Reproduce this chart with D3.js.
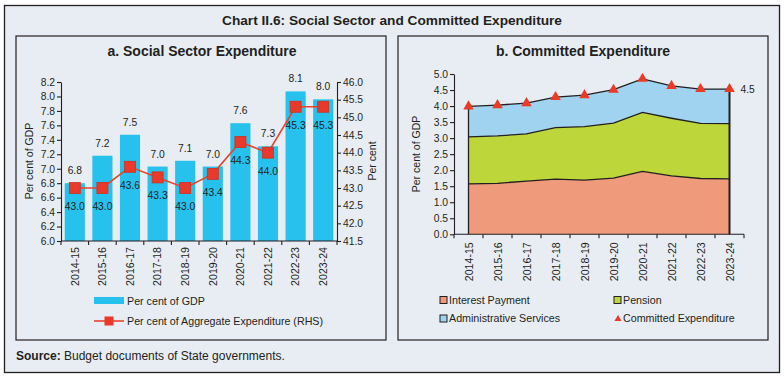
<!DOCTYPE html>
<html><head><meta charset="utf-8">
<script src="https://cdn.jsdelivr.net/npm/d3@7"></script>
<style>body{margin:0;background:#fff;} svg{display:block;font-family:"Liberation Sans",Arial,sans-serif;}</style>
</head><body>
<svg id="c" width="784" height="378"></svg>
<script>
const years = ["2014-15","2015-16","2016-17","2017-18","2018-19","2019-20","2020-21","2021-22","2022-23","2023-24"];
const gdpShare = [6.80,7.18,7.47,7.03,7.11,7.03,7.63,7.31,8.07,7.96];
const gdpLabels = ["6.8","7.2","7.5","7.0","7.1","7.0","7.6","7.3","8.1","8.0"];
const aggShare = [43.0,43.0,43.6,43.3,43.0,43.4,44.3,44.0,45.3,45.3];
const leftTicks = [6.0,6.2,6.4,6.6,6.8,7.0,7.2,7.4,7.6,7.8,8.0,8.2];
const rightTicks = [41.5,42.0,42.5,43.0,43.5,44.0,44.5,45.0,45.5,46.0];
const interest = [1.57,1.59,1.66,1.72,1.69,1.75,1.96,1.82,1.74,1.73];
const pension = [1.47,1.48,1.47,1.61,1.67,1.72,1.84,1.80,1.72,1.72];
const admin = [0.95,0.96,0.96,0.95,0.98,1.04,1.05,1.01,1.07,1.08];
const committed = [3.99,4.03,4.09,4.28,4.34,4.51,4.85,4.63,4.53,4.53];
const bTicks = [0,0.5,1.0,1.5,2.0,2.5,3.0,3.5,4.0,4.5,5.0];

const svg = d3.select("#c");
const ink = "#231f20";
svg.append("rect").attr("x",4.5).attr("y",5.5).attr("width",775).attr("height",367)
  .attr("fill","#e8edf3").attr("stroke",ink).attr("stroke-width",1.3);
svg.append("text").attr("x",392).attr("y",25).attr("text-anchor","middle")
  .attr("font-size",13.7).attr("font-weight","bold").attr("fill",ink)
  .text("Chart II.6: Social Sector and Committed Expenditure");
svg.append("rect").attr("x",16).attr("y",36).attr("width",370).attr("height",304)
  .attr("fill","none").attr("stroke",ink).attr("stroke-width",1.2);
svg.append("rect").attr("x",398).attr("y",36).attr("width",370).attr("height",304)
  .attr("fill","none").attr("stroke",ink).attr("stroke-width",1.2);
svg.append("text").attr("x",202).attr("y",56).attr("text-anchor","middle")
  .attr("font-size",14).attr("font-weight","bold").attr("fill",ink).text("a. Social Sector Expenditure");
svg.append("text").attr("x",583).attr("y",56).attr("text-anchor","middle")
  .attr("font-size",14).attr("font-weight","bold").attr("fill",ink).text("b. Committed Expenditure");

function styleAxis(g){
  g.selectAll("path,line").attr("stroke",ink).attr("stroke-width",1.1);
  g.selectAll("text").attr("fill",ink).attr("font-size",10.3).attr("font-family","Liberation Sans, Arial, sans-serif");
}

// ---------- Panel a ----------
const ax = d3.scaleBand().domain(years).range([61,337]).paddingInner(0.27).paddingOuter(0.135);
const ayL = d3.scaleLinear().domain([6.0,8.2]).range([241,82]);
const ayR = d3.scaleLinear().domain([41.5,46.0]).range([241,82]);
const pa = svg.append("g");
pa.selectAll("rect.bar").data(years).join("rect").attr("class","bar")
  .attr("x",d=>ax(d)).attr("width",ax.bandwidth())
  .attr("y",(d,i)=>ayL(gdpShare[i])).attr("height",(d,i)=>ayL(6.0)-ayL(gdpShare[i]))
  .attr("fill","#27c1ee");
const cx = d=>ax(d)+ax.bandwidth()/2;
pa.selectAll("text.bl").data(years).join("text").attr("class","bl")
  .attr("x",cx).attr("y",(d,i)=>ayL(gdpShare[i])-9).attr("text-anchor","middle")
  .attr("font-size",10.3).attr("fill",ink).text((d,i)=>gdpLabels[i]);
pa.append("path").datum(years)
  .attr("d",d3.line().x(cx).y((d,i)=>ayR(aggShare[i])))
  .attr("fill","none").attr("stroke","#e8432f").attr("stroke-width",1.6);
pa.selectAll("rect.mk").data(years).join("rect").attr("class","mk")
  .attr("x",d=>cx(d)-5.5).attr("y",(d,i)=>ayR(aggShare[i])-5.5).attr("width",11).attr("height",11)
  .attr("fill","#e8392a").attr("stroke","#d0301f").attr("stroke-width",0.8);
pa.selectAll("text.ll").data(years).join("text").attr("class","ll")
  .attr("x",cx).attr("y",(d,i)=>ayR(aggShare[i])+22).attr("text-anchor","middle")
  .attr("font-size",10.3).attr("fill",ink).text((d,i)=>aggShare[i].toFixed(1));
const gL = pa.append("g").attr("transform","translate(61,0)")
  .call(d3.axisLeft(ayL).tickValues(leftTicks).tickFormat(d3.format(".1f")).tickSize(4).tickPadding(2).tickSizeOuter(0));
styleAxis(gL);
const gR = pa.append("g").attr("transform","translate(337,0)")
  .call(d3.axisRight(ayR).tickValues(rightTicks).tickFormat(d3.format(".1f")).tickSize(4).tickPadding(2).tickSizeOuter(0));
styleAxis(gR);
const gB = pa.append("g").attr("transform","translate(0,241)")
  .call(d3.axisBottom(ax).tickSize(0).tickPadding(0));
styleAxis(gB);
gB.selectAll("path").attr("d","M61,0H337");
gB.selectAll(".tick text").attr("font-size",10.6).attr("transform","rotate(-90)").attr("text-anchor","end")
  .attr("x",-6).attr("y",0).attr("dy","0.35em");
const bounds = years.map(d=>ax(d)-ax.step()*ax.paddingInner()/2).concat([337]);
gB.selectAll("line.bd").data(bounds).join("line").attr("class","bd")
  .attr("x1",d=>d).attr("x2",d=>d).attr("y1",0).attr("y2",4).attr("stroke",ink).attr("stroke-width",1.1);
pa.append("text").attr("transform","translate(33,161) rotate(-90)").attr("text-anchor","middle")
  .attr("font-size",10.5).attr("fill",ink).text("Per cent of GDP");
pa.append("text").attr("transform","translate(376,161) rotate(-90)").attr("text-anchor","middle")
  .attr("font-size",10.5).attr("fill",ink).text("Per cent");
// legend a
pa.append("rect").attr("x",94).attr("y",297).attr("width",30).attr("height",7).attr("fill","#27c1ee");
pa.append("text").attr("x",127).attr("y",304.5).attr("font-size",10.7).attr("fill",ink).text("Per cent of GDP");
pa.append("line").attr("x1",94).attr("x2",124).attr("y1",321).attr("y2",321).attr("stroke","#e8432f").attr("stroke-width",1.6);
pa.append("rect").attr("x",104.5).attr("y",316.5).attr("width",9).attr("height",9).attr("fill","#e8392a");
pa.append("text").attr("x",127).attr("y",325).attr("font-size",10.7).attr("fill",ink).text("Per cent of Aggregate Expenditure (RHS)");

// ---------- Panel b ----------
const bx = d3.scalePoint().domain(years).range([454,744]).padding(0.5);
const by = d3.scaleLinear().domain([0,5]).range([234.3,74]);
const rows = years.map((y,i)=>({year:y, interest:interest[i], pension:pension[i], admin:admin[i]}));
const keys = ["interest","pension","admin"];
const colors = {interest:"#ef9a7a", pension:"#bdd73a", admin:"#9fd3f0"};
const stack = d3.stack().keys(keys)(rows);
const pb = svg.append("g");
const area = d3.area().x(d=>bx(d.data.year)).y0(d=>by(d[0])).y1(d=>by(d[1]));
const topLine = d3.line().x(d=>bx(d.data.year)).y(d=>by(d[1]));
pb.selectAll("path.ar").data(stack).join("path").attr("class","ar")
  .attr("d",area).attr("fill",d=>colors[d.key]);
pb.selectAll("path.tl").data(stack).join("path").attr("class","tl")
  .attr("d",topLine).attr("fill","none").attr("stroke",ink).attr("stroke-width",1.3);
const last = stack[2];
pb.append("line").attr("x1",bx(years[0])).attr("x2",bx(years[0]))
  .attr("y1",by(0)).attr("y2",by(last[0][1])).attr("stroke",ink).attr("stroke-width",1.3);
pb.append("line").attr("x1",bx(years[9])).attr("x2",bx(years[9]))
  .attr("y1",by(0)).attr("y2",by(last[9][1])).attr("stroke",ink).attr("stroke-width",2);
const tri = d3.symbol().type(d3.symbolTriangle).size(48);
pb.selectAll("path.tri").data(years).join("path").attr("class","tri")
  .attr("transform",(d,i)=>`translate(${bx(d)},${by(committed[i])})`)
  .attr("d",tri).attr("fill","#ea3b27");
pb.append("text").attr("x",bx(years[9])+11).attr("y",by(committed[9])+4)
  .attr("font-size",10.3).attr("fill",ink).text(committed[9].toFixed(1));
const gbL = pb.append("g").attr("transform","translate(454,0)")
  .call(d3.axisLeft(by).tickValues(bTicks).tickFormat(d3.format(".1f")).tickSize(4).tickPadding(2).tickSizeOuter(0));
styleAxis(gbL);
const gbB = pb.append("g").attr("transform","translate(0,234.3)")
  .call(d3.axisBottom(bx).tickSize(0).tickPadding(0));
styleAxis(gbB);
gbB.selectAll("path").attr("d","M454,0H744");
gbB.selectAll(".tick text").attr("font-size",10.6).attr("transform","rotate(-90)").attr("text-anchor","end")
  .attr("x",-8).attr("y",0).attr("dy","0.35em");
const bb = years.map(d=>bx(d)-bx.step()/2).concat([744]);
gbB.selectAll("line.bd").data(bb).join("line").attr("class","bd")
  .attr("x1",d=>d).attr("x2",d=>d).attr("y1",0).attr("y2",4).attr("stroke",ink).attr("stroke-width",1.1);
pb.append("text").attr("transform","translate(420,154) rotate(-90)").attr("text-anchor","middle")
  .attr("font-size",10.5).attr("fill",ink).text("Per cent of GDP");
// legend b
const leg = [
  {x:440,y:300,type:"sq",c:colors.interest,t:"Interest Payment"},
  {x:614,y:300,type:"sq",c:colors.pension,t:"Pension"},
  {x:440,y:318.5,type:"sq",c:colors.admin,t:"Administrative Services"},
  {x:614,y:318.5,type:"tri",c:"#ea3b27",t:"Committed Expenditure"}
];
leg.forEach(l=>{
  if(l.type==="sq"){
    pb.append("rect").attr("x",l.x).attr("y",l.y-3.5).attr("width",7).attr("height",7)
      .attr("fill",l.c).attr("stroke",ink).attr("stroke-width",1);
  } else {
    pb.append("path").attr("transform",`translate(${l.x+4},${l.y+0.5})`)
      .attr("d",d3.symbol().type(d3.symbolTriangle).size(22)).attr("fill",l.c);
  }
  pb.append("text").attr("x",l.x+9).attr("y",l.y+3.8).attr("font-size",10.7).attr("fill",ink).text(l.t);
});

// source
const src = svg.append("text").attr("x",16).attr("y",360).attr("font-size",12).attr("fill",ink);
src.append("tspan").attr("font-weight","bold").text("Source:");
src.append("tspan").text(" Budget documents of State governments.");
</script>
</body></html>
